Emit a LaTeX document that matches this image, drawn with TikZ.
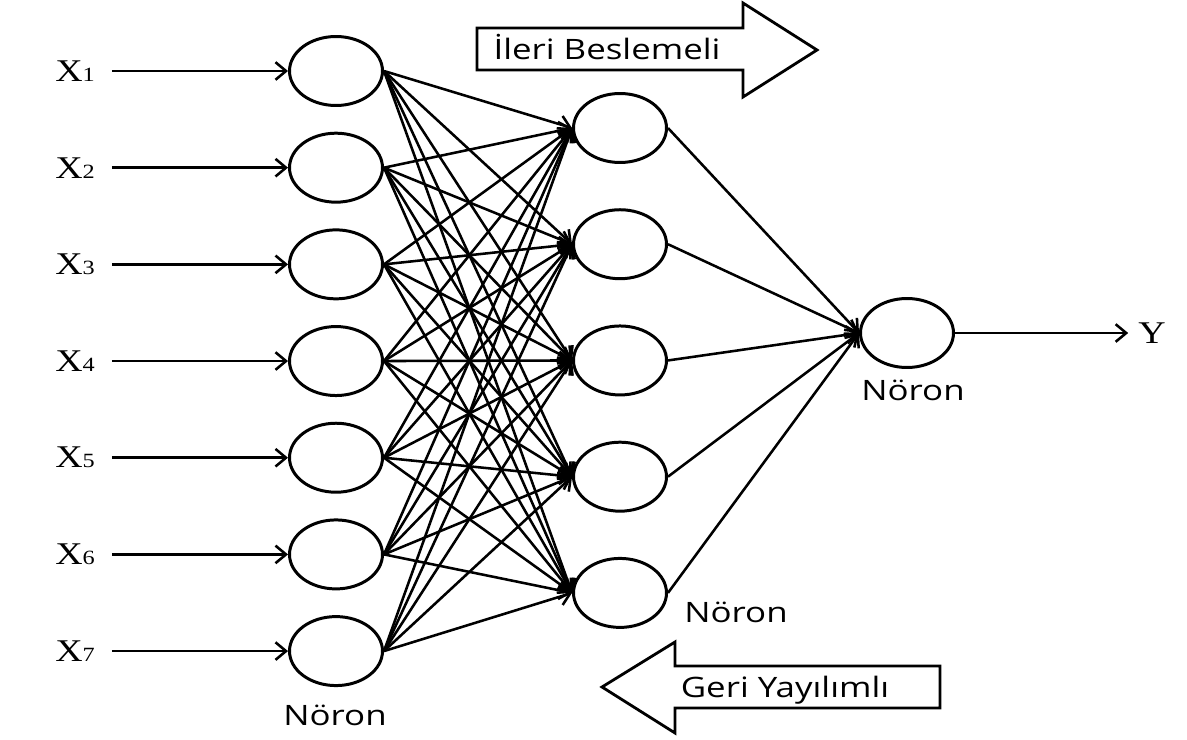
\documentclass[tikz,border=0pt]{standalone}
\usepackage{fontspec}
\setmainfont{Liberation Serif}
\newfontfamily\labelfont[FakeStretch=1.24]{Open Sans}
\newfontfamily\varfont[FakeStretch=1.2]{Liberation Serif}
\usepackage{tikz}
\usetikzlibrary{shapes.geometric,positioning,arrows.meta}

\newcommand{\inp}[1]{{\varfont\fontsize{18}{18}\selectfont X\fontsize{11.5}{11.5}\selectfont #1}}

\begin{document}
\begin{tikzpicture}[x=0.02cm,y=-0.02cm,line width=1.45pt,node distance=1.934cm,on grid,
	>={Straight Barb[length=6pt,width=10pt]},
	neuron/.style={ellipse,draw,line width=1.7pt,minimum width=1.86cm,minimum height=1.38cm,inner sep=0pt},
	varname/.style={inner xsep=9pt,inner ysep=0pt},
	caption/.style={font=\labelfont\fontsize{16}{16}\selectfont,inner sep=0pt,anchor=base}]
	\useasboundingbox (0,0) rectangle (1187,740);

	% input layer
	\node[neuron] (i_1) at (336,71) {};
	\node[neuron] (i_2) [below=of i_1] {};
	\node[neuron] (i_3) [below=of i_2] {};
	\node[neuron] (i_4) [below=of i_3] {};
	\node[neuron] (i_5) [below=of i_4] {};
	\node[neuron] (i_6) [below=of i_5] {};
	\node[neuron] (i_7) [below=of i_6] {};

	% hidden layer
	\node[neuron] (h_1) at (620,128) {};
	\node[neuron] (h_2) [below=2.325cm of h_1] {};
	\node[neuron] (h_3) [below=2.325cm of h_2] {};
	\node[neuron] (h_4) [below=2.325cm of h_3] {};
	\node[neuron] (h_5) [below=2.325cm of h_4] {};

	% output
	\node[neuron] (o) at (907,333) {};
	\node[varname,inner xsep=5pt] (y) [right=4.9cm of o] {{\varfont\fontsize{18}{18}\selectfont Y}};

	\foreach \n in {1,...,7} {
		\node[varname] (x_\n) [left=5.22cm of i_\n] {\inp{\n}};
		\draw[->] (x_\n) -- (i_\n);
	}

	\foreach \i in {1,...,7}
		\foreach \j in {1,...,5}
			\draw[->] (i_\i.east) -- (h_\j.west);

	\foreach \j in {1,...,5}
		\draw[->] (h_\j.east) -- (o.west);
	\draw[->] (o) -- (y);

	\node[caption] (n_in) at (335,725) {Nöron};
	\node[caption] (n_hid) at (736,622) {Nöron};
	\node[caption] (n_out) at (913,400) {Nöron};

	% direction arrows
	\draw[line width=1.6pt] (477,28) -- (743,28) -- (743,3) -- (817,50) -- (743,97) -- (743,70) -- (477,70) -- cycle;
	\node[caption] (fwd) at (607,60) {İleri Beslemeli};
	\draw[line width=1.6pt] (940,666) -- (675,666) -- (675,642) -- (602,687) -- (675,733) -- (675,708) -- (940,708) -- cycle;
	\node[caption] (bwd) at (785,697) {Geri Yayılımlı};
\end{tikzpicture}
\end{document}
